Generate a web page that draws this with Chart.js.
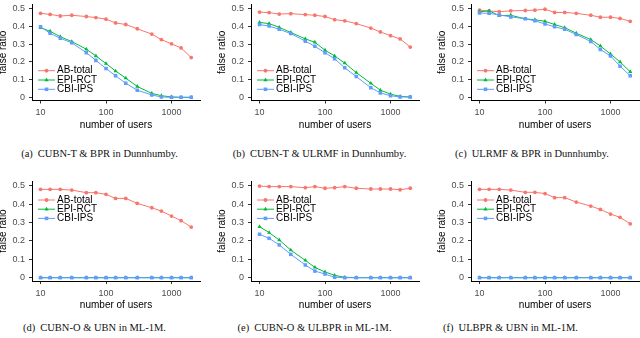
<!DOCTYPE html>
<html><head><meta charset="utf-8">
<script src="https://cdn.jsdelivr.net/npm/chart.js@4"></script>
<style>
html,body{margin:0;padding:0;background:#fff;width:640px;height:338px;overflow:hidden;position:relative}
canvas{position:absolute}
.cap{position:absolute;font-family:"Liberation Serif",serif;font-size:10.5px;color:#111;white-space:nowrap;transform:translate(-50%,-50%)}
.cap b{font-weight:normal;margin-right:5px}
</style></head><body>
<script>
const users = [10,14,20,30,50,70,100,140,200,300,500,700,1000,1400,2000];
const seriesNames = ['AB-total','EPI-RCT','CBI-IPS'];
const xTickValues = [10,100,1000];
const yTickValues = [0,0.1,0.2,0.3,0.4,0.5];
const captionLabels = ['(a)','(b)','(c)','(d)','(e)','(f)'];
const captionTexts = ['CUBN-T & BPR in Dunnhumby.','CUBN-T & ULRMF in Dunnhumby.','ULRMF & BPR in Dunnhumby.','CUBN-O & UBN in ML-1M.','CUBN-O & ULBPR in ML-1M.','ULBPR & UBN in ML-1M.'];

const abA  = [0.473,0.467,0.458,0.462,0.455,0.449,0.440,0.419,0.410,0.386,0.356,0.325,0.301,0.278,0.224];
const epiA = [0.392,0.372,0.341,0.314,0.271,0.233,0.190,0.148,0.108,0.061,0.022,0.009,0.002,0,0];
const cbiA = [0.397,0.361,0.332,0.307,0.251,0.208,0.162,0.121,0.079,0.040,0.013,0.002,0,0,0];

const abB  = [0.480,0.477,0.469,0.471,0.466,0.462,0.455,0.437,0.431,0.415,0.390,0.368,0.347,0.329,0.283];
const epiB = [0.422,0.415,0.394,0.365,0.329,0.310,0.265,0.233,0.193,0.139,0.079,0.040,0.018,0.005,0.002];
const cbiB = [0.410,0.401,0.383,0.359,0.316,0.287,0.251,0.217,0.166,0.117,0.054,0.025,0.009,0.002,0.002];

const abC  = [0.491,0.486,0.482,0.487,0.489,0.491,0.496,0.478,0.478,0.473,0.462,0.451,0.451,0.444,0.428];
const epiC = [0.482,0.487,0.460,0.462,0.442,0.437,0.428,0.410,0.392,0.361,0.325,0.289,0.244,0.199,0.144];
const cbiC = [0.475,0.473,0.464,0.453,0.442,0.431,0.413,0.397,0.383,0.354,0.314,0.269,0.233,0.175,0.121];

const abD  = [0.480,0.480,0.480,0.476,0.462,0.462,0.453,0.431,0.431,0.404,0.380,0.362,0.335,0.310,0.275];
const epiD = [0,0,0,0,0,0,0,0,0,0,0,0,0,0,0];
const cbiD = [0,0,0,0,0,0,0,0,0,0,0,0,0,0,0];

const abE  = [0.498,0.495,0.495,0.495,0.489,0.495,0.486,0.489,0.495,0.486,0.482,0.482,0.482,0.478,0.486];
const epiE = [0.277,0.245,0.205,0.150,0.094,0.056,0.031,0.013,0.002,0,0,0,0,0,0];
const cbiE = [0.236,0.214,0.178,0.127,0.069,0.036,0.020,0.002,0,0,0,0,0,0,0];

const abF  = [0.480,0.480,0.480,0.476,0.464,0.464,0.457,0.435,0.435,0.411,0.389,0.371,0.346,0.328,0.293];
const epiF = [0,0,0,0,0,0,0,0,0,0,0,0,0,0,0];
const cbiF = [0,0,0,0,0,0,0,0,0,0,0,0,0,0,0];

const panels = [[abA,epiA,cbiA],[abB,epiB,cbiB],[abC,epiC,cbiC],[abD,epiD,cbiD],[abE,epiE,cbiE],[abF,epiF,cbiF]];

const colors = ['#F8766D','#00BA38','#619CFF'];
const styles = ['circle','triangle','rect'];
const radii = [1.9,2.4,2.5];
const SANS = '"Liberation Sans", Arial, sans-serif';

const insideLegend = {
  id:'insideLegend',
  afterDatasetsDraw(chart, args, opts){
    const {ctx, chartArea} = chart;
    chart.data.datasets.forEach((ds,i)=>{
      const y = opts.atTop ? chartArea.top + 19 + i*9.2 : chartArea.bottom - 29.8 + i*9.3;
      const x0 = chartArea.left + 6, x1 = chartArea.left + 23;
      ctx.save();
      ctx.strokeStyle = ds.borderColor; ctx.lineWidth = 1;
      ctx.beginPath(); ctx.moveTo(x0,y); ctx.lineTo(x1,y); ctx.stroke();
      ctx.fillStyle = ds.pointBackgroundColor;
      Chart.helpers.drawPoint(ctx,{pointStyle:ds.pointStyle,radius:ds.pointRadius,borderWidth:0,rotation:0},(x0+x1)/2,y);
      ctx.fillStyle = '#000';
      ctx.font = '10px ' + SANS;
      ctx.textBaseline = 'middle'; ctx.textAlign = 'left';
      ctx.fillText(ds.label, chartArea.left + 25, y);
      ctx.restore();
    });
  }
};

function makeChart(idx){
  const col = idx % 3, row = Math.floor(idx/3);
  const areaLeft = [32,251,471][col];
  const canvasLeft = areaLeft - 35;
  const canvasTop = row === 0 ? 0 : 171;
  const padTop = row === 0 ? 0.5 : 10;
  const H = row === 0 ? 131 : 141;
  const cv = document.createElement('canvas');
  cv.width = 207; cv.height = H;
  cv.style.left = canvasLeft + 'px'; cv.style.top = canvasTop + 'px';
  cv.style.width = '207px'; cv.style.height = H + 'px';
  document.body.appendChild(cv);
  const datasets = panels[idx].map((vals,k)=>({
    label: seriesNames[k],
    data: users.map((u,i)=>({x:u,y:vals[i]})),
    order: 2 - k,
    borderColor: colors[k], backgroundColor: colors[k],
    pointBackgroundColor: colors[k], pointBorderColor: colors[k],
    pointBorderWidth: 0, pointStyle: styles[k], pointRadius: radii[k],
    borderWidth: 1, tension: 0, fill: false
  }));
  new Chart(cv, {
    type:'line',
    data:{datasets},
    plugins:[insideLegend],
    options:{
      responsive:false, animation:false, devicePixelRatio:1,
      layout:{padding:{left:0.5, top:padTop, right:1, bottom: H - padTop - 100 - 30.5}},
      plugins:{legend:{display:false}, tooltip:{enabled:false}, insideLegend:{atTop: row===1}},
      scales:{
        x:{
          type:'logarithmic', min:7.405, max:2723,
          afterBuildTicks:s=>{ s.ticks = xTickValues.map(v=>({value:v})); },
          ticks:{callback:v=>String(v), font:{size:9,family:SANS}, color:'#4D4D4D', padding:4, maxRotation:0, autoSkip:false},
          grid:{display:true, drawOnChartArea:false, drawTicks:true, tickLength:3, color:'#333'},
          border:{display:true, color:'#000', width:1},
          title:{display:true, text:'number of users', font:{size:10,family:SANS}, color:'#000', padding:0},
          afterFit:s=>{ s.height = 30.5; s.paddingLeft = 0; s.paddingRight = 0; }
        },
        y:{
          type:'linear', min:-0.018, max:0.5255,
          afterBuildTicks:s=>{ s.ticks = yTickValues.map(v=>({value:v})); },
          ticks:{callback:v=> v===0 ? '0' : v.toFixed(1), font:{size:9,family:SANS}, color:'#4D4D4D', padding:4},
          grid:{display:true, drawOnChartArea:false, drawTicks:true, tickLength:3, color:'#333'},
          border:{display:true, color:'#000', width:1},
          title:{display:true, text:'false ratio', font:{size:10,family:SANS}, color:'#000', padding:0},
          afterFit:s=>{ s.width = 34.5; s.paddingTop = 0; s.paddingBottom = 0; }
        }
      }
    }
  });
}
for (let i=0;i<6;i++) makeChart(i);

const capPos = [[99.5,153],[319.5,153],[532,153],[94.5,327],[314.5,327],[510.5,327]];
captionTexts.forEach((t,i)=>{
  const d = document.createElement('div');
  d.className = 'cap';
  d.style.left = capPos[i][0] + 'px'; d.style.top = capPos[i][1] + 'px';
  const b = document.createElement('b'); b.textContent = captionLabels[i];
  d.appendChild(b); d.appendChild(document.createTextNode(t));
  document.body.appendChild(d);
});
</script>
</body></html>
